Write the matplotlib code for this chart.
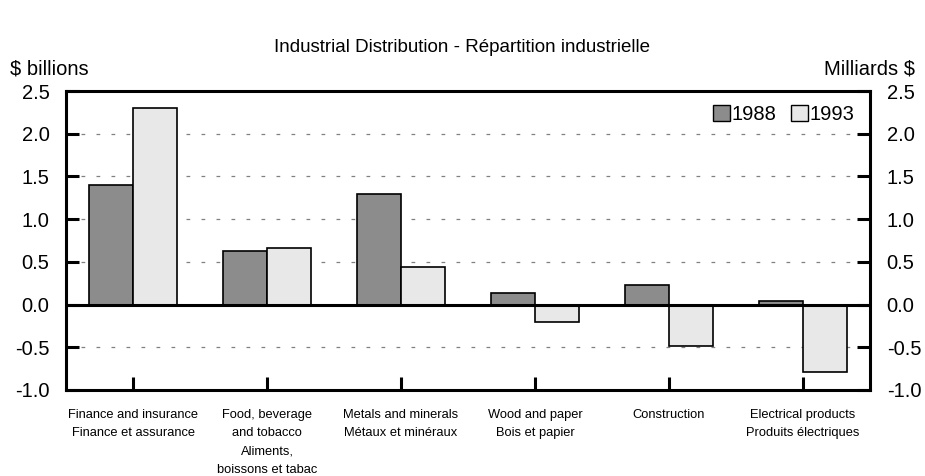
import numpy as np
import matplotlib
matplotlib.use('Agg')
import matplotlib.pyplot as plt
from matplotlib.patches import Patch
from matplotlib.transforms import ScaledTranslation

# ---------------------- data ----------------------
categories = [
    'Finance and insurance\nFinance et assurance',
    'Food, beverage\nand tobacco\nAliments,\nboissons et tabac',
    'Metals and minerals\nMétaux et minéraux',
    'Wood and paper\nBois et papier',
    'Construction',
    'Electrical products\nProduits électriques',
]
vals_1988 = [1.40, 0.63, 1.29, 0.14, 0.23, 0.04]
vals_1993 = [2.30, 0.66, 0.44, -0.20, -0.49, -0.79]
series_names = ['1988', '1993']
yticks = [-1.0, -0.5, 0.0, 0.5, 1.0, 1.5, 2.0, 2.5]

plt.rcParams['font.family'] = ['Liberation Sans', 'DejaVu Sans']

fig = plt.figure(figsize=(9.25, 4.76), dpi=100)
ax = fig.add_axes([0.0714, 0.1807, 0.8691, 0.6281])

x = np.arange(len(categories))
w = 0.33
c88, c93 = '#8c8c8c', '#e8e8e8'
ax.bar(x - w / 2, vals_1988, w, color=c88, edgecolor='black', linewidth=1.2, zorder=3)
ax.bar(x + w / 2, vals_1993, w, color=c93, edgecolor='black', linewidth=1.2, zorder=3)

ax.set_xlim(-0.5, len(categories) - 0.5)
ax.set_ylim(-1.0, 2.5)
ax.set_yticks(yticks)
ax.set_yticklabels(['%.1f' % v for v in yticks])

# dashed grid, solid zero line
for v in yticks:
    if v in (-1.0, 2.5):
        continue
    if v == 0.0:
        ax.axhline(0, color='black', linewidth=2.2, zorder=4)
    else:
        ax.axhline(v, color='#808080', linewidth=0.9, dashes=(3, 9), zorder=1)

for s in ax.spines.values():
    s.set_linewidth(2.2)

ax.tick_params(axis='y', direction='in', length=9.5, width=2.2, labelsize=14.5,
               left=True, right=True, labelleft=True, labelright=True, pad=12)
ax.set_xticks(x)
ax.set_xticklabels([])
ax.tick_params(axis='x', direction='in', length=9.5, width=2.2)

# category labels below the axis
offset = ScaledTranslation(0, -19 / 100, fig.dpi_scale_trans)
for i, lab in enumerate(categories):
    ax.text(x[i], -1.0, lab, transform=ax.transData + offset, ha='center', va='top',
            fontsize=9.3, linespacing=1.7)

handles = [Patch(facecolor=c88, edgecolor='black', linewidth=1.0),
           Patch(facecolor=c93, edgecolor='black', linewidth=1.0)]
ax.legend(handles, series_names, loc='upper right', bbox_to_anchor=(0.981, 0.953),
          ncol=2, frameon=False, fontsize=14.5, handlelength=0.85, handleheight=0.85,
          handletextpad=0.1, columnspacing=0.7, borderaxespad=0.0, borderpad=0.0)

fig.text(0.5, 0.9, 'Industrial Distribution - Répartition industrielle',
         ha='center', va='center', fontsize=13.5)
fig.text(0.011, 0.855, '$ billions', ha='left', va='center', fontsize=14.5)
fig.text(0.989, 0.855, 'Milliards $', ha='right', va='center', fontsize=14.5)

fig.savefig('out.png', dpi=100)
